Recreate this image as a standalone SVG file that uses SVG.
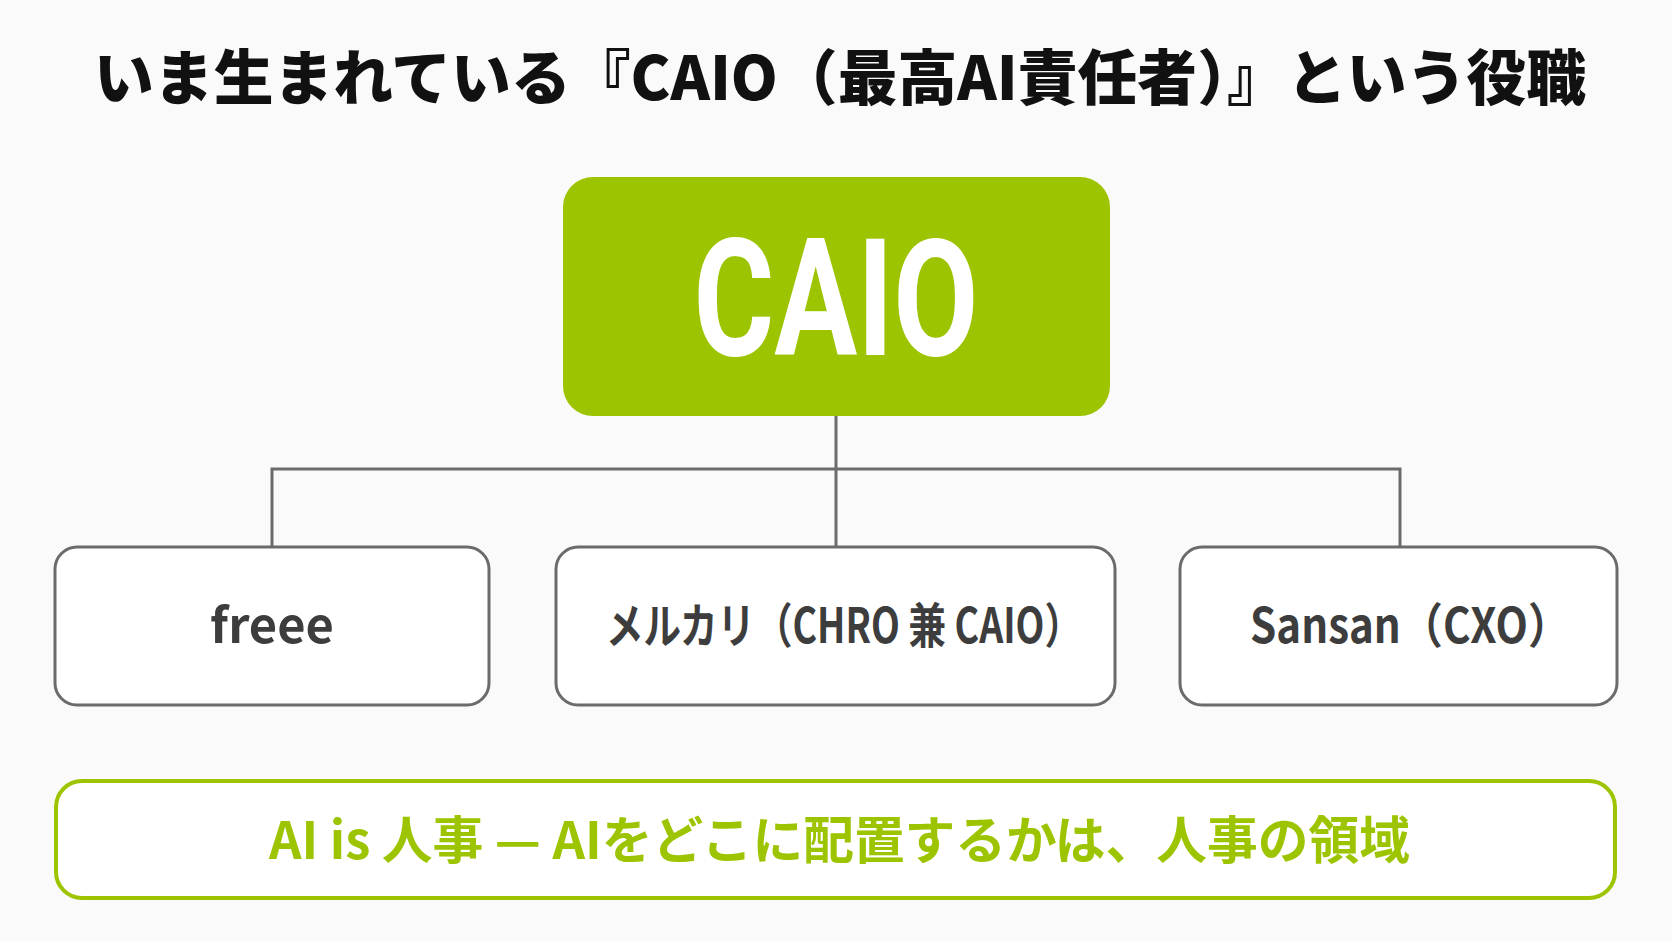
<svg xmlns="http://www.w3.org/2000/svg" width="1672" height="941" viewBox="0 0 1672 941">
<style>
.jp{font-family:"Noto Sans CJK JP","Noto Sans",sans-serif}
.title{font-size:60px;font-weight:900;fill:#111}
.child rect{fill:#fff;stroke:#6b6b6b;stroke-width:3}
.child text{font-size:48px;font-weight:700;fill:#3d3d3d;text-anchor:middle}
.conn{fill:none;stroke:#6b6b6b;stroke-width:3}
</style>
<rect width="1672" height="941" fill="#fafafa"/>
<text class="jp title" x="94" y="100" textLength="1492" lengthAdjust="spacingAndGlyphs">いま生まれている『CAIO（最高AI責任者）』という役職</text>
<g id="connectors">
<path class="conn" d="M836 416 V546 M272 546 V469 H1400 V546"/>
</g>
<g id="caio">
<rect x="563" y="177" width="547" height="239" rx="30" fill="#9dc400"/>
<text x="836" y="355" font-family="Roboto,'Liberation Sans',sans-serif" font-weight="700" font-size="164" fill="#fff" text-anchor="middle" textLength="285" lengthAdjust="spacingAndGlyphs">CAIO</text>
</g>
<g id="freee" class="child">
<rect x="55" y="547" width="434" height="158" rx="22"/>
<text class="jp" x="272" y="643" textLength="124" lengthAdjust="spacingAndGlyphs">freee</text>
</g>
<g id="mercari" class="child">
<rect x="556" y="547" width="559" height="158" rx="22"/>
<text class="jp" x="844" y="643" textLength="476" lengthAdjust="spacingAndGlyphs">メルカリ（CHRO 兼 CAIO）</text>
</g>
<g id="sansan" class="child">
<rect x="1180" y="547" width="437" height="158" rx="22"/>
<text class="jp" x="1410" y="643" textLength="320" lengthAdjust="spacingAndGlyphs">Sansan（CXO）</text>
</g>
<g id="note">
<rect x="56" y="781" width="1559" height="117" rx="26" fill="#fff" stroke="#9dc400" stroke-width="4"/>
<text class="jp" x="269" y="859" font-size="51" font-weight="700" fill="#9dc400" textLength="1141" lengthAdjust="spacingAndGlyphs">AI is 人事 — AIをどこに配置するかは、人事の領域</text>
</g>
</svg>
